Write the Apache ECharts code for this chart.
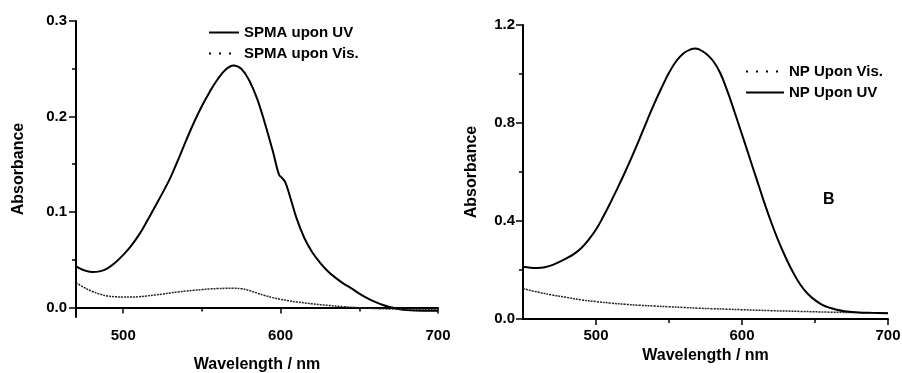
<!DOCTYPE html>
<html lang="en">
<head>
    <meta charset="UTF-8">
    <title>Absorbance spectra</title>
    <style>
        html, body { margin: 0; padding: 0; background: #fff; }
        #chart { width: 902px; height: 373px; }
    </style>
</head>
<body>
<div id="chart"></div>

<script type="text/javascript" src="https://cdn.jsdelivr.net/npm/echarts@6/dist/echarts.min.js"></script>
<script>
    // left panel: SPMA
    var spmaUvNm  = [470, 475, 480, 485, 490, 495, 500, 505, 510, 515, 520, 525, 530, 535, 540, 545, 550, 555, 560, 565, 570, 575, 580, 585, 590, 595, 599, 601, 603, 606, 610, 615, 620, 625, 630, 635, 640, 645, 650, 655, 660, 665, 670, 675, 680, 690, 700];
    var spmaUvAbs = [0.043, 0.039, 0.0372, 0.0378, 0.041, 0.047, 0.055, 0.0645, 0.076, 0.090, 0.105, 0.120, 0.136, 0.155, 0.175, 0.194, 0.211, 0.226, 0.239, 0.249, 0.2535, 0.250, 0.238, 0.219, 0.193, 0.164, 0.139, 0.1355, 0.131, 0.116, 0.094, 0.073, 0.058, 0.047, 0.038, 0.031, 0.025, 0.020, 0.0145, 0.0098, 0.0058, 0.0025, 0.0002, -0.0017, -0.0028, -0.0035, -0.0035];
    var spmaVisNm  = [470, 475, 480, 485, 490, 495, 500, 505, 510, 515, 520, 525, 530, 535, 540, 545, 550, 555, 560, 565, 570, 575, 580, 585, 590, 595, 600, 605, 610, 620, 630, 640, 650, 660, 670, 680, 700];
    var spmaVisAbs = [0.026, 0.021, 0.017, 0.014, 0.012, 0.0112, 0.011, 0.011, 0.0112, 0.012, 0.013, 0.014, 0.0152, 0.0163, 0.0172, 0.018, 0.0187, 0.0194, 0.0198, 0.020, 0.020, 0.0197, 0.0178, 0.0150, 0.0125, 0.0103, 0.0085, 0.0070, 0.0058, 0.0038, 0.0022, 0.0008, -0.0003, -0.0011, -0.0016, -0.0018, -0.0018];

    // right panel: NP
    var npUvNm  = [450, 455, 460, 465, 470, 475, 480, 485, 490, 495, 500, 505, 510, 515, 520, 525, 530, 535, 540, 545, 550, 555, 560, 565, 568, 570, 575, 580, 585, 590, 595, 600, 605, 610, 615, 620, 625, 630, 635, 640, 645, 650, 655, 660, 665, 670, 675, 680, 690, 700];
    var npUvAbs = [0.213, 0.209, 0.208, 0.211, 0.220, 0.233, 0.248, 0.266, 0.290, 0.324, 0.365, 0.418, 0.476, 0.537, 0.601, 0.668, 0.738, 0.810, 0.880, 0.945, 1.005, 1.053, 1.085, 1.101, 1.104, 1.102, 1.085, 1.055, 1.005, 0.930, 0.843, 0.753, 0.662, 0.571, 0.480, 0.395, 0.318, 0.250, 0.190, 0.140, 0.103, 0.077, 0.058, 0.046, 0.038, 0.032, 0.029, 0.027, 0.025, 0.023];
    var npVisNm  = [450, 460, 470, 480, 490, 500, 510, 520, 530, 540, 550, 560, 570, 580, 590, 600, 620, 640, 660, 680, 700];
    var npVisAbs = [0.124, 0.110, 0.098, 0.088, 0.078, 0.071, 0.065, 0.060, 0.056, 0.053, 0.050, 0.047, 0.044, 0.042, 0.040, 0.038, 0.034, 0.031, 0.028, 0.026, 0.024];

    // tick labels
    var leftXTicks  = [500, 600, 700];
    var leftXMinor  = [550, 650];
    var leftYTicks  = [0, 0.1, 0.2, 0.3];
    var leftYMinor  = [0.05, 0.15, 0.25];
    var rightXTicks = [500, 600, 700];
    var rightXMinor = [550, 650];

    function pairs(xs, ys) {
        var out = [];
        for (var i = 0; i < xs.length; i++) out.push([xs[i], ys[i]]);
        return out;
    }

    var FONT = 'Liberation Sans, Arial, sans-serif';
    var axisLine = { show: true, lineStyle: { color: '#000', width: 2 } };
    var tickLabel = { color: '#000', fontFamily: FONT, fontWeight: 'bold', fontSize: 15 };
    var nameStyle = { color: '#000', fontFamily: FONT, fontWeight: 'bold', fontSize: 16 };
    var legendText = { color: '#000', fontFamily: FONT, fontWeight: 'bold', fontSize: 15 };
    var noSymbol = { color: 'rgba(0,0,0,0)', borderWidth: 0 };
    var dotLegend = { type: [2, 8], width: 2, color: '#000' };

    function fmt1(v) { return (Math.round(v * 10) / 10).toFixed(1); }

    // main axis with custom major ticks, plus an overlay axis for the short minor ticks
    function majorX(grid, min, ticks, gap, margin) {
        return {
            type: 'value', gridIndex: grid, min: min, max: 700, position: 'bottom',
            name: 'Wavelength / nm', nameLocation: 'middle', nameGap: gap, nameTextStyle: nameStyle,
            axisLine: axisLine, splitLine: { show: false },
            axisTick: { show: true, length: 6, lineStyle: { color: '#000', width: 1.5 }, customValues: ticks },
            axisLabel: Object.assign({ margin: margin, customValues: ticks }, tickLabel)
        };
    }
    function minorX(grid, min, ticks) {
        return {
            type: 'value', gridIndex: grid, min: min, max: 700, position: 'bottom',
            axisLine: { show: false }, splitLine: { show: false }, axisLabel: { show: false },
            axisTick: { show: true, length: 4, lineStyle: { color: '#000', width: 1.5 }, customValues: ticks }
        };
    }

    var option = {
        backgroundColor: '#fff',
        animation: false,
        title: {
            text: 'B', left: 818, top: 187,
            textStyle: { color: '#000', fontFamily: FONT, fontWeight: 'bold', fontSize: 16 }
        },
        legend: [
            {
                left: 208, top: 25, padding: 0, orient: 'vertical', itemWidth: 30, itemHeight: 12, itemGap: 6,
                textStyle: legendText, itemStyle: noSymbol,
                data: [
                    { name: 'SPMA upon UV' },
                    { name: 'SPMA upon Vis.', lineStyle: dotLegend }
                ]
            },
            {
                left: 745, top: 64, padding: 0, orient: 'vertical', itemWidth: 38, itemHeight: 12, itemGap: 6,
                textStyle: legendText, itemStyle: noSymbol,
                data: [
                    { name: 'NP Upon Vis.', lineStyle: dotLegend },
                    { name: 'NP Upon UV' }
                ]
            }
        ],
        grid: [
            { left: 76, top: 21, width: 362, height: 296, outerBoundsMode: 'none' },
            { left: 523, top: 25, width: 365, height: 294, outerBoundsMode: 'none' }
        ],
        xAxis: [
            majorX(0, 470, leftXTicks, 40, 11),
            minorX(0, 470, leftXMinor),
            majorX(1, 450, rightXTicks, 21, 9),
            minorX(1, 450, rightXMinor)
        ],
        yAxis: [
            {
                type: 'value', gridIndex: 0, min: -0.01, max: 0.3,
                name: 'Absorbance', nameLocation: 'middle', nameGap: 49, nameTextStyle: nameStyle,
                axisLine: axisLine, splitLine: { show: false },
                axisTick: { show: true, length: 7, lineStyle: { color: '#000', width: 1.5 }, customValues: leftYTicks },
                axisLabel: Object.assign({ margin: 9, customValues: leftYTicks, formatter: fmt1 }, tickLabel)
            },
            {
                type: 'value', gridIndex: 0, min: -0.01, max: 0.3, position: 'left',
                axisLine: { show: false }, splitLine: { show: false }, axisLabel: { show: false },
                axisTick: { show: true, length: 4, lineStyle: { color: '#000', width: 1.5 }, customValues: leftYMinor }
            },
            {
                type: 'value', gridIndex: 1, min: 0, max: 1.2, interval: 0.4,
                name: 'Absorbance', nameLocation: 'middle', nameGap: 43, nameTextStyle: nameStyle,
                axisLine: axisLine, splitLine: { show: false },
                axisTick: { show: true, length: 7, lineStyle: { color: '#000', width: 1.5 } },
                minorTick: { show: true, splitNumber: 2, length: 4, lineStyle: { color: '#000', width: 1.5 } },
                axisLabel: Object.assign({ margin: 8, formatter: fmt1 }, tickLabel)
            }
        ],
        series: [
            {
                name: 'SPMA upon UV', type: 'line', xAxisIndex: 0, yAxisIndex: 0,
                symbol: 'none', smooth: 0.4, data: pairs(spmaUvNm, spmaUvAbs),
                lineStyle: { color: '#000', width: 2 }, itemStyle: { color: '#000' }
            },
            {
                name: 'SPMA upon Vis.', type: 'line', xAxisIndex: 0, yAxisIndex: 0,
                symbol: 'none', smooth: 0.4, data: pairs(spmaVisNm, spmaVisAbs),
                lineStyle: { color: '#222', width: 1.5, type: [2, 1] }, itemStyle: { color: '#000' }
            },
            {
                name: 'NP Upon Vis.', type: 'line', xAxisIndex: 2, yAxisIndex: 2,
                symbol: 'none', smooth: 0.4, data: pairs(npVisNm, npVisAbs),
                lineStyle: { color: '#222', width: 1.5, type: [2, 1] }, itemStyle: { color: '#000' }
            },
            {
                name: 'NP Upon UV', type: 'line', xAxisIndex: 2, yAxisIndex: 2,
                symbol: 'none', smooth: 0.4, data: pairs(npUvNm, npUvAbs),
                lineStyle: { color: '#000', width: 2 }, itemStyle: { color: '#000' }
            }
        ]
    };

    var chart = echarts.init(document.getElementById('chart'));
    chart.setOption(option);
</script>
</body>
</html>
